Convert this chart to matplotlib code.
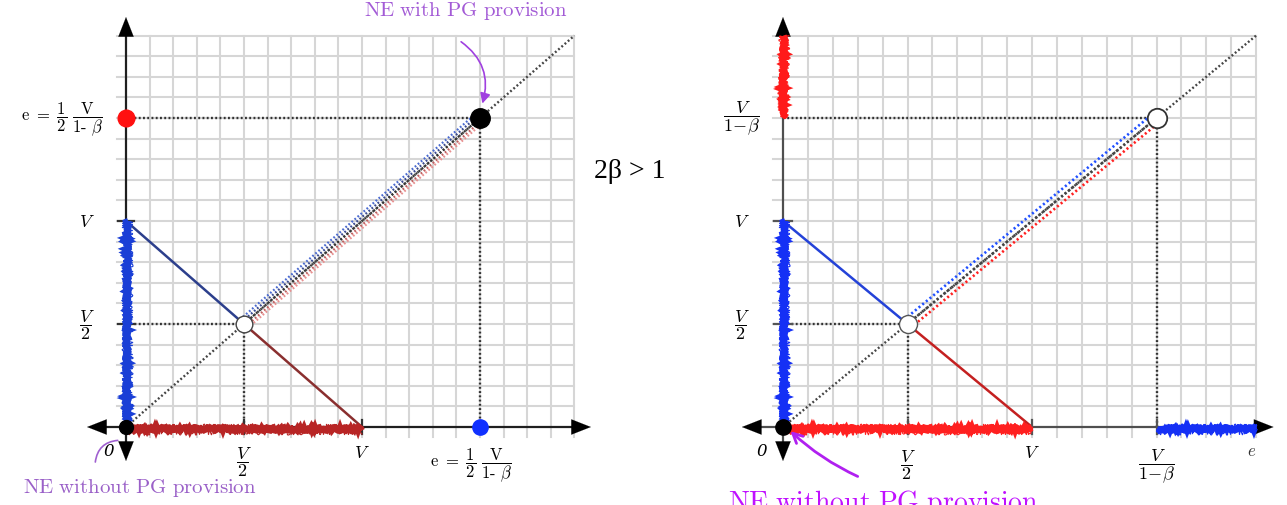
import numpy as np
import matplotlib as mpl
mpl.use('Agg')
import matplotlib.pyplot as plt
from matplotlib import transforms

plt.rcParams['mathtext.fontset'] = 'cm'
plt.rcParams['font.family'] = ['DejaVu Serif']

# key values (in units of V)
half_v = 0.5
v_val = 1.0
ne_pg = 1.5          # 1/2 V/(1-b) on the left, V/(1-b) on the right
diag_end = 1.9
grid_step = 0.1

frac_half = r'$\dfrac{V}{2}$'
frac_pg = r'$\dfrac{V}{1\!-\!\mathrm{\beta}}$'
pg_label = r'$\mathrm{e}\ =\ \dfrac{1}{2}\ \dfrac{\mathrm{V}}{\mathrm{1}\text{-}\ \beta}$'

left_ylabels = [(v_val, r'$V$'), (half_v, frac_half)]
left_xlabels = [(half_v, frac_half, -0.165), (v_val, r'$V$', -0.12)]
right_ylabels = [(ne_pg, frac_pg), (v_val, r'$V$'), (half_v, frac_half)]
right_xlabels = [(half_v, frac_half, -0.18), (v_val, r'$V$', -0.12), (ne_pg, frac_pg, -0.19)]

W, H = 1287, 506
fig = plt.figure(figsize=(W / 100, H / 100), dpi=100)


def make_axes(ox, oy, sx, sy, xlim, ylim):
    left = (ox + xlim[0] * sx) / W
    bottom = (H - (oy - ylim[0] * sy)) / H
    width = (xlim[1] - xlim[0]) * sx / W
    height = (ylim[1] - ylim[0]) * sy / H
    ax = fig.add_axes([left, bottom, width, height])
    ax.set_xlim(xlim)
    ax.set_ylim(ylim)
    ax.axis('off')
    return ax


def brush(ax, xs, ys, color):
    for lw, sc, ln_ in [(4.5, 1.5, 3.0), (1.5, 4.0, 1.2), (0.8, 5.5, 0.8)]:
        ln, = ax.plot(xs, ys, color=color, lw=lw, solid_capstyle='butt',
                      solid_joinstyle='miter', zorder=4)
        ln.set_sketch_params(scale=sc, length=ln_, randomness=8)


def dotted(ax, xs, ys, color='#333333', lw=1.7, tr=None):
    ax.plot(xs, ys, color=color, lw=lw, ls=(0, (0.8, 1.0)), zorder=3,
            transform=tr if tr is not None else ax.transData)


def base(ax, axis_color, sx, sy):
    ticks = np.arange(0, diag_end + 1e-9, grid_step)
    for t in ticks[1:]:
        ax.plot([t, t], [-0.05, diag_end], color='#d6d6d6', lw=1.5, zorder=1)
        ax.plot([-0.04, diag_end], [t, t], color='#d6d6d6', lw=1.5, zorder=1)
    ax.plot([-0.12, 1.9], [0, 0], color=axis_color, lw=1.6, zorder=2)
    ax.plot([0, 0], [-0.12, 1.92], color=axis_color, lw=1.6, zorder=2)
    arrow = dict(arrowstyle='<|-|>,head_length=1.4,head_width=0.55', lw=0.1,
                 color='black', shrinkA=0, shrinkB=0)
    ax.annotate('', xy=(1.97, 0), xytext=(-0.165, 0), arrowprops=arrow, zorder=2)
    ax.annotate('', xy=(0, 1.99), xytext=(0, -0.165), arrowprops=arrow, zorder=2)
    # diagonal
    dotted(ax, [0, diag_end], [0, diag_end], color='#444444')
    # perpendicular offset for parallel dotted lines
    n = np.hypot(sx, sy)
    return -sy / n, sx / n


def parallel(ax, px, py, colors, lw=1.6):
    for off, c in colors:
        tr = transforms.offset_copy(ax.transData, fig=fig, x=px * off, y=py * off, units='dots')
        dotted(ax, [half_v, ne_pg], [half_v, ne_pg], color=c, lw=lw, tr=tr)


def tick(ax, x=None, y=None, color='#555555'):
    if x is not None:
        ax.plot([x, x], [-0.035, 0.035], color=color, lw=1.6, zorder=3)
    if y is not None:
        ax.plot([-0.035, 0.035], [y, y], color=color, lw=1.6, zorder=3)


# ---------------- left panel ----------------
sxL, syL = 236, 206
axL = make_axes(126, 428, sxL, syL, (-0.3, 2.05), (-0.38, 2.05))
px, py = base(axL, '#222222', sxL, syL)

dotted(axL, [0, ne_pg], [ne_pg, ne_pg])
dotted(axL, [ne_pg, ne_pg], [0, ne_pg])
dotted(axL, [0, half_v], [half_v, half_v])
dotted(axL, [half_v, half_v], [0, half_v])
parallel(axL, px, py, [(6, '#4a6ad0'), (3, '#3a4a90'), (0, '#333333'), (-3, '#c06060'), (-5.5, '#e89090')])

axL.plot([0, half_v], [v_val, half_v], color='#2c3f8c', lw=1.8, zorder=3)
axL.plot([half_v, v_val], [half_v, 0], color='#8a2f2f', lw=1.8, zorder=3)
brush(axL, [0.005, 0.005], [0.0, v_val], '#1a3fd6')
brush(axL, [0.0, v_val], [-0.01, -0.01], '#b82525')
for t in (half_v, v_val):
    tick(axL, x=t, color='#333333')
    tick(axL, y=t, color='#333333')

axL.plot([0], [0], 'o', color='black', ms=10, zorder=6)
axL.plot([ne_pg], [ne_pg], 'o', color='black', ms=14, zorder=6)
axL.plot([0], [ne_pg], 'o', color='#ff1010', ms=12, zorder=6)
axL.plot([ne_pg], [0], 'o', color='#1030ff', ms=11, zorder=6)
axL.plot([half_v], [half_v], 'o', mfc='white', mec='#444444', mew=1, ms=12, zorder=6)

for yv, lab in left_ylabels:
    axL.text(-0.165, yv, lab, fontsize=13, ha='center', va='center')
for xv, lab, yc in left_xlabels:
    axL.text(xv, yc, lab, fontsize=13, ha='center', va='center')
axL.text(-0.075, -0.115, '0', fontsize=12, style='italic', ha='center', va='center')
axL.text(-0.27, ne_pg, pg_label, fontsize=12, ha='center', va='center')
axL.text(1.46, -0.18, pg_label, fontsize=12, ha='center', va='center')

axL.text(1.44, 2.025, r'$\mathrm{NE\ with\ PG\ provision}$', fontsize=15,
         color='#a35bd6', ha='center', va='center')
axL.annotate('', xy=(1.51, 1.57), xytext=(1.42, 1.87),
             arrowprops=dict(arrowstyle='-|>,head_length=0.6,head_width=0.3', lw=1.2,
                             color='#a040e0', connectionstyle='arc3,rad=-0.35',
                             shrinkA=0, shrinkB=0), zorder=7)
axL.text(0.06, -0.29, r'$\mathrm{NE\ without\ PG\ provision}$', fontsize=15,
         color='#9a60c8', ha='center', va='center')
axL.annotate('', xy=(-0.035, -0.065), xytext=(-0.13, -0.17),
             arrowprops=dict(arrowstyle='-', lw=1.2, color='#a060d0',
                             connectionstyle='arc3,rad=-0.4', shrinkA=0, shrinkB=0), zorder=7)

fig.text(630 / W, 1 - 172 / H, '2β > 1', fontsize=20, family='Liberation Serif',
         ha='center', va='center')

# ---------------- right panel ----------------
sxR, syR = 249, 206
axR = make_axes(783, 428, sxR, syR, (-0.3, 2.02), (-0.38, 2.05))
px, py = base(axR, '#555555', sxR, syR)

dotted(axR, [0, ne_pg], [ne_pg, ne_pg])
dotted(axR, [ne_pg, ne_pg], [0, ne_pg])
dotted(axR, [0, half_v], [half_v, half_v])
dotted(axR, [half_v, half_v], [0, half_v])
parallel(axR, px, py, [(5.5, '#2050ff'), (0, '#444444'), (-5.0, '#ff2020')], lw=1.9)

axR.plot([0, half_v], [v_val, half_v], color='#2442d8', lw=1.8, zorder=3)
axR.plot([half_v, v_val], [half_v, 0], color='#c42020', lw=1.8, zorder=3)
brush(axR, [0.005, 0.005], [0.0, v_val], '#1530f5')
brush(axR, [0.0, 0.005], [ne_pg, diag_end], '#ff1a1a')
brush(axR, [0.0, v_val], [-0.01, -0.01], '#ff2020')
brush(axR, [ne_pg, diag_end], [-0.01, -0.01], '#1530f5')
for t in (half_v, v_val):
    tick(axR, x=t)
    tick(axR, y=t)
tick(axR, x=ne_pg)

axR.plot([0], [0], 'o', color='black', ms=11, zorder=6)
axR.plot([ne_pg], [ne_pg], 'o', mfc='white', mec='#333333', mew=1.3, ms=14, zorder=6)
axR.plot([half_v], [half_v], 'o', mfc='white', mec='#555555', mew=1, ms=13, zorder=6)

for yv, lab in right_ylabels:
    axR.text(-0.165, yv, lab, fontsize=13, ha='center', va='center')
for xv, lab, yc in right_xlabels:
    axR.text(xv, yc, lab, fontsize=13, ha='center', va='center')
axR.text(-0.085, -0.115, '0', fontsize=12, style='italic', ha='center', va='center')
axR.text(1.88, -0.115, r'$e$', fontsize=12, ha='center', va='center', color='#333333')

axR.text(-0.22, -0.365, r'$\mathrm{NE\ without\ PG\ provision}$', fontsize=20,
         color='#c010ff', ha='left', va='center')
axR.annotate('', xy=(0.03, -0.02), xytext=(0.3, -0.24),
             arrowprops=dict(arrowstyle='->,head_length=0.7,head_width=0.35', lw=2,
                             color='#b020f0', connectionstyle='arc3,rad=-0.08',
                             shrinkA=0, shrinkB=0), zorder=7)

fig.savefig('out.png', dpi=100)
